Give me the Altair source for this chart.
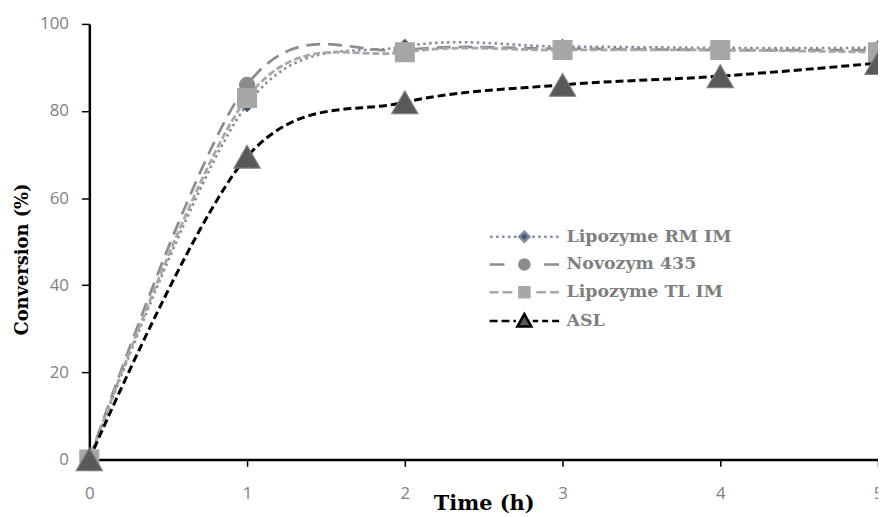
import altair as alt
import pandas as pd

# ---- data ----
time_h = [0, 1, 2, 3, 4, 5]
series_names = ["Lipozyme RM IM", "Novozym 435", "Lipozyme TL IM", "ASL"]
rm_im = [0, 81.5, 94.8, 94.8, 94.5, 94.5]
novozym = [0, 86.0, 94.0, 94.3, 94.0, 94.0]
tl_im = [0, 83.0, 93.5, 94.0, 94.0, 93.5]
asl = [0, 69.5, 82.0, 86.0, 88.0, 91.0]
x_ticks = [0, 1, 2, 3, 4, 5]
y_ticks = [0, 20, 40, 60, 80, 100]

# ---- styles ----
line_colors = ["#7f8ca1", "#8c8c8c", "#a8a8a8", "#000000"]
line_dashes = [[2.5, 3.5], [14, 8], [7, 3], [8, 4]]
line_widths = [2.6, 3.0, 3.0, 3.4]
marker_colors = ["#44546a", "#8c8c8c", "#a6a6a6", "#595959"]
marker_edges = ["#44546a", "#8c8c8c", "#a6a6a6", "#7f7f7f"]
marker_shapes = ["diamond", "circle", "square", "triangle-up"]
marker_sizes = [200, 230, 360, 700]

# legend symbols: line segment + marker, in units of 10 px (symbolSize 400)
legend_paths = [
    "M-3.45,0L-3.2,0M-2.85,0L-2.6,0M-2.25,0L-2.0,0M-1.65,0L-1.4,0M-1.05,0L-0.8,0"
    "M0.8,0L1.05,0M1.4,0L1.65,0M2.0,0L2.25,0M2.6,0L2.85,0M3.2,0L3.45,0"
    "M0,-0.5L0.5,0L0,0.5L-0.5,0Z",
    "M-3.5,0L-2.0,0M2.0,0L3.5,0M0.5,0A0.5,0.5,0,1,1,-0.5,0A0.5,0.5,0,1,1,0.5,0Z",
    "M-3.5,0L-2.6,0M-2.2,0L-1.2,0M1.2,0L2.2,0M2.6,0L3.5,0"
    "M-0.5,-0.5L0.5,-0.5L0.5,0.5L-0.5,0.5Z",
    "M-3.5,0L-2.7,0M-2.3,0L-1.5,0M-1.1,0L-0.85,0M0.85,0L1.4,0M1.8,0L2.4,0M2.8,0L3.5,0"
    "M0,-0.7L0.7,0.55L-0.7,0.55Z",
]
legend_strokes = ["#7f8ca1", "#8c8c8c", "#a8a8a8", "#000000"]

rows = []
for name, vals in zip(series_names, [rm_im, novozym, tl_im, asl]):
    for t, v in zip(time_h, vals):
        rows.append({"series": name, "time": t, "conv": v})
df = pd.DataFrame(rows)

legend = alt.Legend(
    title=None,
    orient="none",
    legendX=427,
    legendY=203,
    padding=0,
    symbolSize=400,
    symbolStrokeWidth=2.6,
    labelOffset=31,
    rowPadding=6,
    labelLimit=400,
    labelFont="DejaVu Serif",
    labelFontWeight="bold",
    labelFontSize=17.5,
    labelColor="#7f7f7f",
)

x_enc = alt.X(
    "time:Q",
    scale=alt.Scale(domain=[0, 5], nice=False),
    axis=alt.Axis(
        values=x_ticks, title="Time (h)", grid=False,
        domainColor="#000000", domainWidth=2.5,
        tickColor="#000000", tickWidth=1.5, tickSize=7,
        labelFont="Open Sans", labelFontSize=17, labelColor="#808080",
        labelPadding=19, labelFlush=False,
        titleFont="DejaVu Serif", titleFontWeight="bold", titleFontSize=21,
        titleColor="#000000", titleY=34, titleBaseline="top",
    ),
)
y_enc = alt.Y(
    "conv:Q",
    scale=alt.Scale(domain=[0, 100], nice=False),
    axis=alt.Axis(
        values=y_ticks, title="Conversion (%)", grid=False,
        domainColor="#000000", domainWidth=2.5,
        tickColor="#000000", tickWidth=1.5, tickSize=8,
        labelFont="Open Sans", labelFontSize=17, labelColor="#808080",
        labelPadding=13, labelFlush=False,
        titleFont="DejaVu Serif", titleFontWeight="bold", titleFontSize=18,
        titleColor="#000000", titleX=-58, titleY=237,
    ),
)

base = alt.Chart(df)

lines = base.mark_line(interpolate="cardinal", strokeCap="butt").encode(
    x=x_enc,
    y=y_enc,
    stroke=alt.Stroke("series:N", scale=alt.Scale(domain=series_names, range=line_colors), legend=None),
    strokeDash=alt.StrokeDash("series:N", scale=alt.Scale(domain=series_names, range=line_dashes), legend=None),
    strokeWidth=alt.StrokeWidth("series:N", scale=alt.Scale(domain=series_names, range=line_widths), legend=None),
)

# one marker layer per series, drawn in the reference's stacking order
point_layers = []
for name, shp, fc, ec, sz in zip(series_names, marker_shapes, marker_colors, marker_edges, marker_sizes):
    point_layers.append(
        base.transform_filter(alt.datum.series == name)
        .mark_point(filled=True, opacity=1, shape=shp, fill=fc, stroke=ec, strokeWidth=1.2, size=sz)
        .encode(x=x_enc, y=y_enc)
    )

# legend-only layer: its marks sit outside the canvas, it just supplies the legend
legend_layer = base.transform_filter("datum.time === 0").mark_point(
    filled=True, opacity=1, strokeWidth=2.6, size=400
).encode(
    x=alt.value(-2000),
    y=alt.value(-2000),
    fill=alt.Fill("series:N", scale=alt.Scale(domain=series_names, range=marker_colors), legend=legend),
    shape=alt.Shape("series:N", scale=alt.Scale(domain=series_names, range=legend_paths), legend=legend),
    stroke=alt.Stroke("series:N", scale=alt.Scale(domain=series_names, range=legend_strokes), legend=legend),
)

chart = (
    alt.layer(lines, *point_layers, legend_layer)
    .resolve_scale(stroke="independent", fill="independent", shape="independent")
    .properties(
        width=795,
        height=439,
        autosize=alt.AutoSizeParams(type="none"),
        padding={"left": 82, "top": 14, "right": 0, "bottom": 54},
    )
    .configure_view(stroke=None)
)

chart.save("out.html", embed_options={"renderer": "svg", "actions": False})
